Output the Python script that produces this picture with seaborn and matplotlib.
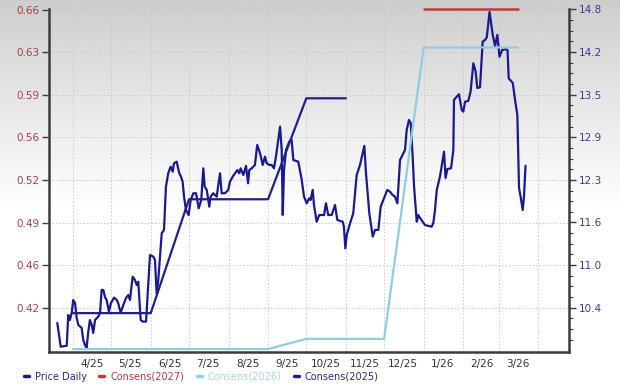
import numpy as np
import pandas as pd
import matplotlib
matplotlib.use("Agg")
import matplotlib.pyplot as plt
from matplotlib.lines import Line2D
from matplotlib.ticker import FixedLocator
import seaborn as sns

# ---- data (x = days since 1 Apr 2025) ----
price_day = [-12.3, -9.6, -4.9, -3.7, -2.4, -1.0, 0.2, 1.6, 2.9, 4.2, 6.8, 8.1, 9.4, 10.7, 12.0,
             13.3, 14.7, 15.9, 17.3, 19.8, 21.2, 22.5, 23.8, 25.1, 26.4, 28.2, 29.8, 32.2, 34.3,
             35.5, 37.4, 39.5, 41.6, 43.4, 44.7, 46.8, 48.6, 50.0, 51.2, 53.1, 54.7, 57.3, 60.4,
             63.0, 64.3, 65.6, 66.9, 69.6, 71.4, 72.9, 74.7, 76.6, 78.2, 79.2, 81.3, 83.4, 84.7,
             86.0, 87.1, 88.6, 90.7, 92.3, 94.4, 96.5, 98.6, 100.6, 102.2, 103.3, 104.9, 106.9,
             108.0, 110.0, 112.7, 115.3, 116.6, 119.2, 121.8, 123.1, 125.3, 127.1, 128.9, 130.4,
             131.5, 133.6, 135.7, 137.3, 138.3, 140.2, 141.4, 142.7, 144.5, 146.7, 148.8, 150.6,
             151.9, 154.0, 155.8, 157.6, 159.2, 161.0, 162.4, 163.7, 164.5, 165.5, 167.1, 169.6,
             171.5, 172.8, 176.7, 179.4, 181.2, 183.3, 185.3, 186.4, 188.0, 189.0, 191.1, 193.2,
             196.9, 198.4, 200.2, 202.9, 205.5, 207.3, 211.5, 212.5, 213.6, 214.7, 217.3, 219.8,
             222.5, 225.1, 227.2, 228.5, 229.8, 232.4, 235.1, 236.9, 239.5, 241.3, 243.9, 246.5,
             248.6, 250.7, 252.5, 254.4, 256.5, 259.1, 260.4, 261.7, 263.5, 264.9, 266.4, 267.5,
             269.6, 270.8, 272.2, 276.1, 281.3, 282.6, 283.9, 285.3, 287.8, 291.0, 292.2, 293.6,
             296.5, 298.3, 298.8, 300.9, 302.7, 304.9, 306.1, 307.5, 310.0, 311.8, 314.0, 315.8,
             317.1, 319.2, 321.3, 323.1, 324.5, 326.7, 329.2, 331.0, 332.8, 334.5, 336.5, 339.6,
             340.8, 341.7, 344.9, 346.7, 348.5, 349.8, 351.1, 352.7, 353.7, 354.9]
price_val = [0.4077, 0.3886, 0.3894, 0.4141, 0.4101, 0.4158, 0.4262, 0.4238, 0.4117, 0.4061,
             0.4037, 0.3940, 0.3900, 0.3876, 0.4007, 0.4101, 0.4061, 0.3997, 0.4101, 0.4128,
             0.4158, 0.4343, 0.4343, 0.4286, 0.4262, 0.4168, 0.4238, 0.4281, 0.4262, 0.4236,
             0.4158, 0.4222, 0.4278, 0.4302, 0.4262, 0.4450, 0.4423, 0.4383, 0.4409, 0.4101,
             0.4088, 0.4088, 0.4624, 0.4611, 0.4584, 0.4316, 0.4423, 0.4799, 0.4826, 0.5174,
             0.5282, 0.5335, 0.5295, 0.5362, 0.5375, 0.5282, 0.5255, 0.5214, 0.5094, 0.4986,
             0.4946, 0.5067, 0.5121, 0.5121, 0.5000, 0.5067, 0.5322, 0.5174, 0.5148, 0.5013,
             0.5094, 0.5121, 0.5094, 0.5282, 0.5121, 0.5121, 0.5148, 0.5214, 0.5255, 0.5282,
             0.5308, 0.5282, 0.5322, 0.5268, 0.5341, 0.5201, 0.5308, 0.5322, 0.5335, 0.5349,
             0.5510, 0.5443, 0.5349, 0.5416, 0.5362, 0.5349, 0.5349, 0.5322, 0.5416, 0.5550,
             0.5657, 0.5469, 0.4946, 0.5308, 0.5469, 0.5536, 0.5550, 0.5389, 0.5375, 0.5228,
             0.5094, 0.5040, 0.5081, 0.5067, 0.5148, 0.5027, 0.4892, 0.4946, 0.4946, 0.5040,
             0.4946, 0.4946, 0.5027, 0.4906, 0.4892, 0.4852, 0.4678, 0.4785, 0.4879, 0.4960,
             0.5268, 0.5349, 0.5443, 0.5502, 0.5282, 0.4960, 0.4772, 0.4826, 0.4826, 0.5013,
             0.5081, 0.5148, 0.5134, 0.5107, 0.5094, 0.5040, 0.5389, 0.5443, 0.5469, 0.5630,
             0.5711, 0.5684, 0.5416, 0.5174, 0.4892, 0.4946, 0.4922, 0.4865, 0.4852, 0.4882,
             0.4986, 0.5148, 0.5255, 0.5456, 0.5244, 0.5316, 0.5322, 0.5469, 0.5872, 0.5898,
             0.5918, 0.5791, 0.5778, 0.5858, 0.5864, 0.5939, 0.6167, 0.6100, 0.5968, 0.5974,
             0.6341, 0.6355, 0.6375, 0.6580, 0.6395, 0.6306, 0.6395, 0.6220, 0.6274, 0.6280,
             0.6274, 0.6046, 0.6009, 0.5872, 0.5751, 0.5164, 0.5091, 0.4986, 0.5094, 0.5343]

cons2025_day = [0, 30, 61, 91, 122, 153, 183, 214]
cons2025_val = [10.32, 10.32, 10.32, 12.00, 12.00, 12.00, 13.49, 13.49]

cons2026_day = [0, 30, 61, 91, 122, 153, 183, 214, 244, 275, 306, 334, 349]
cons2026_val = [9.79, 9.79, 9.79, 9.79, 9.79, 9.79, 9.94, 9.94, 9.94, 14.24, 14.24, 14.24, 14.24]

cons2027_day = [275, 306, 334, 349]
cons2027_val = [14.80, 14.80, 14.80, 14.80]

month_start_days = [0, 30, 61, 91, 122, 153, 183, 214, 244, 275, 306, 334, 365]
month_labels = ["4/25", "5/25", "6/25", "7/25", "8/25", "9/25", "10/25", "11/25",
                "12/25", "1/26", "2/26", "3/26"]
left_tick_labels = ["0.42", "0.46", "0.49", "0.52", "0.56", "0.59", "0.63", "0.66"]
right_tick_labels = ["10.4", "11.0", "11.6", "12.3", "12.9", "13.5", "14.2", "14.8"]
legend_labels = ["Price Daily", "Consens(2027)", "Consens(2026)", "Consens(2025)"]

# ---- style ----
sns.set_style("white")
plt.rcParams["font.family"] = ["DejaVu Sans"]

NAVY = "#1a1a90"
NAVY2 = "#20208a"
LIGHT = "#8fcde0"
RED = "#c43a3a"
SPINE = "#3c3c3c"
GRID = "#c8c8c8"

fig = plt.figure(figsize=(6.2, 3.84), dpi=100)

# background gradient
bg = fig.add_axes([0, 0, 1, 1], zorder=-10)
yy = np.linspace(0, 1, 400)[:, None]
vals = 0.80 + 0.20 * np.clip(yy / 0.55, 0, 1) ** 0.9
bg.imshow(np.repeat(vals, 2, axis=1), aspect="auto", extent=[0, 1, 1, 0],
          cmap="gray", vmin=0, vmax=1, interpolation="bilinear")
bg.axis("off")

ax = fig.add_axes([49 / 620, 1 - 352 / 384, 520 / 620, 343 / 384])
ax.set_facecolor("none")

lstep = (0.66 - 0.42) / 7
ltop = 0.66 + lstep * 0.5 / 42.6
ax.set_ylim(ltop - lstep * 343 / 42.6, ltop)
rstep = (14.8 - 10.4) / 7
rtop = 14.8 + rstep * 0.5 / 42.6
ax.set_xlim(-18.8, 389.0)

df_price = pd.DataFrame({"day": price_day, "price": price_val})
sns.lineplot(data=df_price, x="day", y="price", ax=ax, color=NAVY, lw=1.6,
             estimator=None, sort=False)

left_ticks = np.linspace(0.42, 0.66, 8)
ax.yaxis.set_major_locator(FixedLocator(left_ticks))
ax.set_yticklabels(left_tick_labels)
ax.set_xticks([d + 15 for d in month_start_days[:12]])
ax.set_xticklabels(month_labels)
ax.xaxis.set_minor_locator(FixedLocator(month_start_days))
ax.grid(False)
ax.grid(True, which="minor", axis="x", color=GRID, ls=(0, (1.5, 2)), lw=0.7)
ax.grid(True, which="major", axis="y", color=GRID, ls=(0, (1.5, 2)), lw=0.7)
ax.set_xlabel("")
ax.set_ylabel("")

ax.tick_params(axis="y", which="major", left=True, length=5, width=1, color=SPINE,
               labelcolor="#a3404e", labelsize=7.5, pad=1.5)
ax.tick_params(axis="x", which="both", bottom=False, length=0, labelcolor="#333333",
               labelsize=7.5, pad=5)

for s in ["top", "right"]:
    ax.spines[s].set_visible(False)
for s in ["left", "bottom"]:
    ax.spines[s].set_color(SPINE)
    ax.spines[s].set_linewidth(1.8)

ax2 = ax.twinx()
ax2.set_ylim(rtop - rstep * 343 / 42.6, rtop)
df25 = pd.DataFrame({"day": cons2025_day, "v": cons2025_val})
df26 = pd.DataFrame({"day": cons2026_day, "v": cons2026_val})
df27 = pd.DataFrame({"day": cons2027_day, "v": cons2027_val})
sns.lineplot(data=df26, x="day", y="v", ax=ax2, color=LIGHT, lw=1.6, estimator=None)
sns.lineplot(data=df25, x="day", y="v", ax=ax2, color=NAVY2, lw=1.6, estimator=None)
sns.lineplot(data=df27, x="day", y="v", ax=ax2, color=RED, lw=1.8, estimator=None)
for ln in ax2.get_lines():
    ln.set_clip_on(False)
ax2.set_xlim(-18.8, 389.0)
ax2.set_ylabel("")
ax2.set_xlabel("")

right_ticks = np.linspace(10.4, 14.8, 8)
ax2.yaxis.set_major_locator(FixedLocator(right_ticks))
ax2.set_yticklabels(right_tick_labels)
minor_r = [t + rstep * k / 4 for t in np.r_[right_ticks[0] - rstep, right_ticks] for k in (1, 2, 3)]
ax2.yaxis.set_minor_locator(FixedLocator(minor_r))
ax2.tick_params(axis="y", which="major", right=True, length=5, width=1, color=SPINE,
                labelcolor="#3b3b8e", labelsize=7.5, pad=2)
ax2.tick_params(axis="y", which="minor", right=True, length=3, width=0.8, color=SPINE)
ax2.grid(False)
for s in ["top", "left", "bottom"]:
    ax2.spines[s].set_visible(False)
ax2.spines["right"].set_color(SPINE)
ax2.spines["right"].set_linewidth(1.8)

# legend
handles = [Line2D([], [], color=NAVY, lw=2.5),
           Line2D([], [], color=RED, lw=2.5),
           Line2D([], [], color=LIGHT, lw=2.5),
           Line2D([], [], color=NAVY2, lw=2.5)]
leg = fig.legend(handles, legend_labels, loc="lower left", bbox_to_anchor=(0.035, 0.0),
                 ncol=4, frameon=False, handlelength=0.5, handletextpad=0.6,
                 columnspacing=1.3, fontsize=7, borderpad=0.25, borderaxespad=0.0)
text_colors = ["#2a2a8a", "#b83a3a", "#a8d6e6", "#2a2a8a"]
for t, c in zip(leg.get_texts(), text_colors):
    t.set_color(c)

fig.savefig("out.png", dpi=100)
